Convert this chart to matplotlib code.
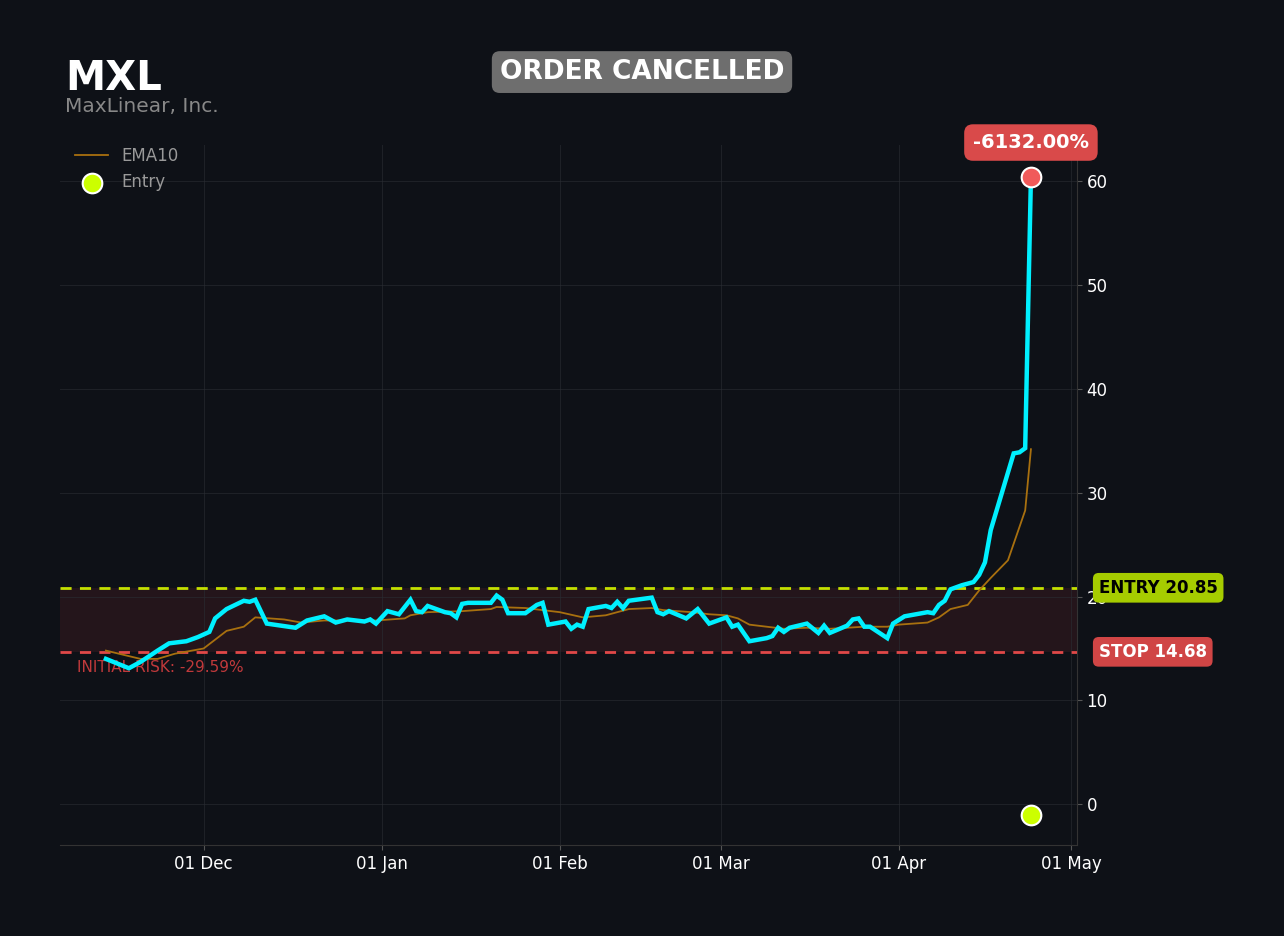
import pandas as pd
import matplotlib.dates as mdates
from matplotlib import pyplot as plt

# price line (cyan)
price_dates = ["2024-11-14", "2024-11-18", "2024-11-20", "2024-11-23", "2024-11-25", "2024-11-28",
               "2024-11-30", "2024-12-02", "2024-12-03", "2024-12-05", "2024-12-08", "2024-12-09",
               "2024-12-10", "2024-12-12", "2024-12-17", "2024-12-19", "2024-12-22", "2024-12-24",
               "2024-12-26", "2024-12-29", "2024-12-30", "2024-12-31", "2025-01-02", "2025-01-04",
               "2025-01-06", "2025-01-07", "2025-01-08", "2025-01-09", "2025-01-12", "2025-01-13",
               "2025-01-14", "2025-01-15", "2025-01-16", "2025-01-20", "2025-01-21", "2025-01-22",
               "2025-01-23", "2025-01-26", "2025-01-28", "2025-01-29", "2025-01-30", "2025-02-02",
               "2025-02-03", "2025-02-04", "2025-02-05", "2025-02-06", "2025-02-09", "2025-02-10",
               "2025-02-11", "2025-02-12", "2025-02-13", "2025-02-17", "2025-02-18", "2025-02-19",
               "2025-02-20", "2025-02-23", "2025-02-25", "2025-02-27", "2025-03-02", "2025-03-03",
               "2025-03-04", "2025-03-05", "2025-03-06", "2025-03-09", "2025-03-10", "2025-03-11",
               "2025-03-12", "2025-03-13", "2025-03-16", "2025-03-18", "2025-03-19", "2025-03-20",
               "2025-03-23", "2025-03-24", "2025-03-25", "2025-03-26", "2025-03-27", "2025-03-30",
               "2025-03-31", "2025-04-02", "2025-04-06", "2025-04-07", "2025-04-08", "2025-04-09",
               "2025-04-10", "2025-04-12", "2025-04-14", "2025-04-15", "2025-04-16", "2025-04-17",
               "2025-04-21", "2025-04-22", "2025-04-23", "2025-04-24"]
price = [14.0, 13.1, 13.7, 14.8, 15.5, 15.7,
         16.1, 16.6, 17.9, 18.8, 19.6, 19.5,
         19.7, 17.4, 17.0, 17.7, 18.1, 17.5,
         17.8, 17.6, 17.8, 17.4, 18.6, 18.3,
         19.7, 18.6, 18.5, 19.1, 18.5, 18.4,
         18.0, 19.3, 19.4, 19.4, 20.1, 19.7,
         18.4, 18.4, 19.2, 19.4, 17.3, 17.6,
         16.9, 17.3, 17.1, 18.8, 19.1, 18.9,
         19.5, 18.9, 19.6, 19.9, 18.5, 18.3,
         18.6, 17.9, 18.8, 17.4, 18.0, 17.1,
         17.3, 16.5, 15.7, 16.0, 16.2, 17.0,
         16.6, 17.0, 17.4, 16.5, 17.2, 16.5,
         17.2, 17.8, 17.9, 17.1, 17.1, 16.0,
         17.4, 18.1, 18.5, 18.4, 19.2, 19.6,
         20.7, 21.1, 21.4, 22.1, 23.3, 26.4,
         33.8, 33.9, 34.3, 60.4]

# EMA10 (brown)
ema_dates = ["2024-11-14", "2024-11-20", "2024-11-23", "2024-11-26", "2024-12-01", "2024-12-05",
             "2024-12-08", "2024-12-10", "2024-12-15", "2024-12-18", "2024-12-22", "2024-12-31",
             "2025-01-05", "2025-01-06", "2025-01-09", "2025-01-15", "2025-01-20", "2025-01-21",
             "2025-01-26", "2025-01-29", "2025-02-01", "2025-02-05", "2025-02-09", "2025-02-11",
             "2025-02-13", "2025-02-17", "2025-02-19", "2025-02-24", "2025-02-27", "2025-03-02",
             "2025-03-04", "2025-03-06", "2025-03-09", "2025-03-12", "2025-03-16", "2025-03-20",
             "2025-03-23", "2025-03-26", "2025-03-30", "2025-04-01", "2025-04-06", "2025-04-08",
             "2025-04-10", "2025-04-13", "2025-04-15", "2025-04-17", "2025-04-20", "2025-04-23",
             "2025-04-24"]
ema10 = [14.8, 14.0, 14.0, 14.5, 15.0, 16.7,
         17.1, 18.0, 17.8, 17.5, 17.7, 17.7,
         17.9, 18.2, 18.5, 18.6, 18.8, 19.0,
         18.9, 18.7, 18.5, 18.0, 18.2, 18.5,
         18.8, 18.9, 18.7, 18.5, 18.3, 18.2,
         17.9, 17.3, 17.1, 16.9, 17.0, 16.9,
         17.0, 17.1, 17.1, 17.3, 17.5, 18.0,
         18.8, 19.2, 20.6, 21.8, 23.5, 28.3,
         34.2]

ticker = "MXL"
company = "MaxLinear, Inc."
status = "ORDER CANCELLED"
entry_price = 20.85
stop_price = 14.68
risk_pct = -29.59
entry_date = "2025-04-24"
entry_marker_y = -1.0
exit_date = "2025-04-24"
exit_price = 60.4
result_pct = -6132.00

bg = "#0e1117"
cyan = "#00f0ff"
ema_col = "#a8700f"
lime = "#ccff00"
entry_col = "#c4e000"
stop_col = "#e04848"

px = pd.to_datetime(price_dates)
ex = pd.to_datetime(ema_dates)

fig = plt.figure(figsize=(12.84, 9.36), dpi=100, facecolor=bg)
ax = fig.add_axes([0.0467, 0.097, 0.792, 0.748], facecolor=bg)

# risk zone
ax.axhspan(stop_price, entry_price, color="#3a1a20", alpha=0.5, lw=0, zorder=1)
ax.axhline(entry_price, color=entry_col, ls=(0, (4, 3)), lw=2, zorder=3)
ax.axhline(stop_price, color=stop_col, ls=(0, (4, 3)), lw=2, zorder=3)

ax.plot(ex, ema10, color=ema_col, lw=1.3, label="EMA10", zorder=4)
ax.plot(px, price, color=cyan, lw=3.2, zorder=5, solid_joinstyle="miter")

ax.scatter(pd.to_datetime([entry_date]), [entry_marker_y], s=200, color=lime,
           edgecolors="white", linewidths=1.5, zorder=6, label="Entry")
ax.scatter(pd.to_datetime([exit_date]), [exit_price], s=200, color="#f05a5a",
           edgecolors="white", linewidths=1.5, zorder=6)

ax.annotate("{:.2f}%".format(result_pct), (pd.to_datetime(exit_date), exit_price),
            xytext=(0, 25), textcoords="offset points", ha="center", va="center",
            color="white", fontsize=14, fontweight="bold",
            bbox=dict(boxstyle="round,pad=0.45", fc="#d94a4a", ec="none"))

ax.text(0.017, stop_price - 1.5, "INITIAL RISK: {:.2f}%".format(risk_pct),
        transform=ax.get_yaxis_transform(), color="#c0393b", fontsize=11, va="center")

ax.text(1.0215, entry_price, "ENTRY {:.2f}".format(entry_price), transform=ax.get_yaxis_transform(),
        color="black", fontsize=12, fontweight="bold", va="center", ha="left",
        bbox=dict(boxstyle="round,pad=0.35", fc="#a6cc00", ec="none"))
ax.text(1.0215, stop_price, "STOP {:.2f}".format(stop_price), transform=ax.get_yaxis_transform(),
        color="white", fontsize=12, fontweight="bold", va="center", ha="left",
        bbox=dict(boxstyle="round,pad=0.35", fc="#d04545", ec="none"))

# axes
ax.set_xlim(pd.Timestamp("2024-11-06"), pd.Timestamp("2025-05-02"))
ax.set_ylim(-3.95, 63.5)
ax.yaxis.tick_right()
ax.set_yticks([0, 10, 20, 30, 40, 50, 60])
ax.xaxis.set_major_locator(mdates.MonthLocator())
ax.xaxis.set_major_formatter(mdates.DateFormatter("%d %b"))
ax.tick_params(colors="white", labelsize=12)
ax.tick_params(axis="x", colors="#555555", labelcolor="white")
ax.tick_params(axis="y", colors="#555555", labelcolor="white")
for s in ["top", "left"]:
    ax.spines[s].set_visible(False)
for s in ["bottom", "right"]:
    ax.spines[s].set_color("#333333")
ax.grid(True, color="#2a2d33", lw=0.8, alpha=0.6)

leg = ax.legend(loc="upper left", frameon=False, fontsize=12, labelcolor="#999999",
                bbox_to_anchor=(0.0, 1.019))

fig.text(0.051, 0.916, ticker, color="white", fontsize=29, fontweight="bold", va="center")
fig.text(0.051, 0.886, company, color="#888888", fontsize=14.5, va="center")
fig.text(0.5, 0.923, status, color="white", fontsize=19, fontweight="bold", ha="center", va="center",
         bbox=dict(boxstyle="round,pad=0.3", fc="#6e6e6e", ec="none"))

fig.savefig("out.png", dpi=100, facecolor=bg)
